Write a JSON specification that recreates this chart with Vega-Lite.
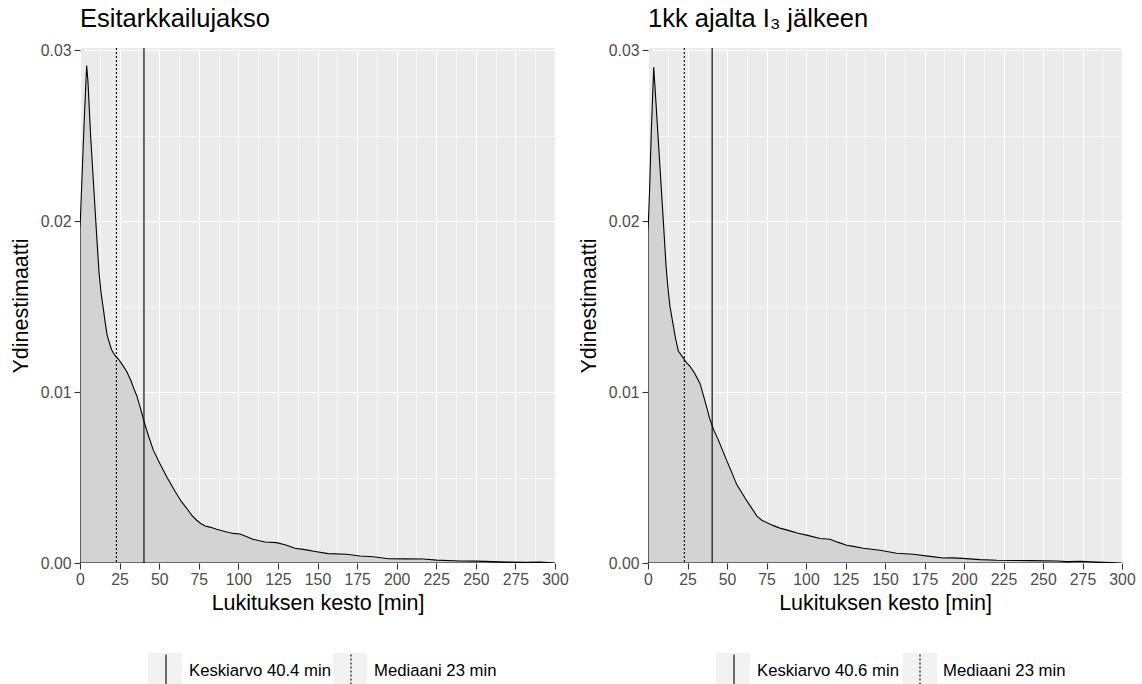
{
  "$schema": "https://vega.github.io/schema/vega-lite/v6.json",
  "background": "white",
  "padding": {"left": 10, "top": 6, "right": 12, "bottom": 0},
  "spacing": 9,
  "config": {
    "font": "Liberation Sans",
    "view": {"fill": "#EBEBEB", "stroke": null},
    "axis": {
      "labelColor": "#4D4D4D",
      "labelFontSize": 15.8,
      "labelFont": "Liberation Sans",
      "titleFont": "Liberation Sans",
      "titleFontSize": 21.5,
      "titleFontWeight": "normal",
      "titleColor": "black",
      "tickColor": "#333333",
      "tickSize": 6,
      "tickWidth": 1.1,
      "labelPadding": 3,
      "domain": false,
      "gridColor": "white",
      "labelOverlap": false,
      "labelFlush": false
    },
    "title": {"font": "Liberation Sans", "fontSize": 25.5, "fontWeight": "normal", "color": "black", "anchor": "start", "frame": "group", "offset": 10},
    "legend": {"labelFont": "Liberation Sans", "labelFontSize": 16.7, "labelColor": "black", "padding": 0}
  },
  "datasets": {
    "left": [
      {"x": 0, "y": 0.0195}, {"x": 1, "y": 0.0219}, {"x": 2, "y": 0.0243}, {"x": 3, "y": 0.0266}, {"x": 4.2, "y": 0.0291},
      {"x": 5, "y": 0.0282}, {"x": 6.7, "y": 0.025}, {"x": 8.4, "y": 0.0224}, {"x": 10.5, "y": 0.0192}, {"x": 12, "y": 0.017},
      {"x": 13.3, "y": 0.0158}, {"x": 14.7, "y": 0.0149}, {"x": 16, "y": 0.014}, {"x": 17.2, "y": 0.0133}, {"x": 18.5, "y": 0.0129},
      {"x": 19.8, "y": 0.0125}, {"x": 21, "y": 0.0123}, {"x": 22.5, "y": 0.0121}, {"x": 24.5, "y": 0.0119}, {"x": 26.7, "y": 0.0116},
      {"x": 29.5, "y": 0.0112}, {"x": 32, "y": 0.0107}, {"x": 34, "y": 0.0102}, {"x": 35.8, "y": 0.0098}, {"x": 38, "y": 0.0091},
      {"x": 40.4, "y": 0.0083}, {"x": 43, "y": 0.0075}, {"x": 46.3, "y": 0.0066}, {"x": 50.5, "y": 0.0058}, {"x": 55, "y": 0.005},
      {"x": 60, "y": 0.0042}, {"x": 64, "y": 0.0036}, {"x": 67.4, "y": 0.0032}, {"x": 70.5, "y": 0.0028}, {"x": 73.7, "y": 0.0025},
      {"x": 76.5, "y": 0.0023}, {"x": 79, "y": 0.00216}, {"x": 82, "y": 0.0021}, {"x": 86.3, "y": 0.00197}, {"x": 92.6, "y": 0.00181},
      {"x": 97, "y": 0.00173}, {"x": 101, "y": 0.0017}, {"x": 105, "y": 0.00155}, {"x": 109.5, "y": 0.00138}, {"x": 116.8, "y": 0.00123},
      {"x": 124.2, "y": 0.00119}, {"x": 130, "y": 0.00105}, {"x": 135.8, "y": 0.00086}, {"x": 142, "y": 0.00078}, {"x": 149.5, "y": 0.00066},
      {"x": 156.8, "y": 0.00055}, {"x": 168.4, "y": 0.00051}, {"x": 176.8, "y": 0.00041}, {"x": 185.3, "y": 0.00037}, {"x": 194.7, "y": 0.00025},
      {"x": 205, "y": 0.00024}, {"x": 216.8, "y": 0.00023}, {"x": 225.3, "y": 0.00017}, {"x": 240, "y": 0.00012}, {"x": 250, "y": 0.00011},
      {"x": 261, "y": 0.00008}, {"x": 270, "y": 0.00006}, {"x": 282, "y": 0.00004}, {"x": 290, "y": 0.00005}, {"x": 299, "y": 0.00001},
      {"x": 300, "y": 0}
    ],
    "right": [
      {"x": 0, "y": 0.0193}, {"x": 1, "y": 0.0218}, {"x": 2, "y": 0.025}, {"x": 3.6, "y": 0.029}, {"x": 5, "y": 0.027},
      {"x": 7, "y": 0.024}, {"x": 9.7, "y": 0.02}, {"x": 11.4, "y": 0.0174}, {"x": 12.5, "y": 0.0162}, {"x": 13.9, "y": 0.015},
      {"x": 16, "y": 0.0139}, {"x": 17.5, "y": 0.0131}, {"x": 19.2, "y": 0.0124}, {"x": 22.3, "y": 0.012}, {"x": 24.5, "y": 0.0117},
      {"x": 26.6, "y": 0.0115}, {"x": 29.5, "y": 0.0111}, {"x": 32.9, "y": 0.0105}, {"x": 36, "y": 0.0095}, {"x": 39.2, "y": 0.0084},
      {"x": 41.5, "y": 0.0078}, {"x": 44.5, "y": 0.0072}, {"x": 49.8, "y": 0.006}, {"x": 53, "y": 0.0053}, {"x": 56.1, "y": 0.0046},
      {"x": 61.4, "y": 0.0038}, {"x": 65, "y": 0.0033}, {"x": 68.8, "y": 0.00276}, {"x": 72, "y": 0.0025}, {"x": 75.1, "y": 0.00237},
      {"x": 79, "y": 0.0022}, {"x": 83.5, "y": 0.00204}, {"x": 89.9, "y": 0.00188}, {"x": 95, "y": 0.00174}, {"x": 100.4, "y": 0.00163},
      {"x": 108.9, "y": 0.00143}, {"x": 115.2, "y": 0.00139}, {"x": 120, "y": 0.00122}, {"x": 125.8, "y": 0.00104}, {"x": 130, "y": 0.00097},
      {"x": 136.3, "y": 0.00086}, {"x": 146.8, "y": 0.00075}, {"x": 157.4, "y": 0.00057}, {"x": 167.9, "y": 0.00051}, {"x": 178.5, "y": 0.00039},
      {"x": 186.9, "y": 0.00029}, {"x": 193, "y": 0.0003}, {"x": 199, "y": 0.00027}, {"x": 210, "y": 0.0002}, {"x": 220.7, "y": 0.00016},
      {"x": 242, "y": 0.00014}, {"x": 259, "y": 0.00012}, {"x": 265, "y": 0.00008}, {"x": 274, "y": 0.0001}, {"x": 284, "y": 0.00006},
      {"x": 293, "y": 0.00003}, {"x": 300, "y": 0}
    ],
    "statsLeft": [
      {"label": "Keskiarvo 40.4 min", "key": "k1", "value": 40.4},
      {"label": "Mediaani 23 min", "key": "k2", "value": 23}
    ],
    "statsRight": [
      {"label": "Keskiarvo 40.6 min", "key": "k1", "value": 40.6},
      {"label": "Mediaani 23 min", "key": "k2", "value": 23}
    ]
  },
  "resolve": {"scale": {"strokeDash": "independent", "fill": "independent"}, "legend": {"strokeDash": "independent", "fill": "independent"}},
  "hconcat": [
    {
      "title": {"text": "Esitarkkailujakso"},
      "width": 475,
      "height": 515,
      "layer": [
        {
          "data": {"name": "left"},
          "mark": {"type": "area", "fill": "#D3D3D3", "stroke": "black", "strokeWidth": 1.1, "clip": true},
          "encoding": {
            "x": {"field": "x", "type": "quantitative", "title": "Lukituksen kesto [min]",
              "scale": {"domain": [0, 300], "nice": false, "zero": false},
              "axis": {"values": [0,12.5,25,37.5,50,62.5,75,87.5,100,112.5,125,137.5,150,162.5,175,187.5,200,212.5,225,237.5,250,262.5,275,287.5,300],
                "labelOverlap": false,
                "labelExpr": "datum.value % 25 === 0 ? datum.label : ''",
                "gridWidth": {"condition": {"test": "datum.value % 25 === 0", "value": 1.1}, "value": 0.55},
                "tickOpacity": {"condition": {"test": "datum.value % 25 === 0", "value": 1}, "value": 0},
                "titlePadding": 6}},
            "y": {"field": "y", "type": "quantitative", "title": "Ydinestimaatti",
              "scale": {"domain": [0, 0.03012], "nice": false},
              "axis": {"values": [0, 0.005, 0.01, 0.015, 0.02, 0.025, 0.03], "format": ".2f",
                "labelOverlap": false,
                "labelExpr": "round(datum.value * 1000) % 10 === 0 ? datum.label : ''",
                "gridWidth": {"condition": {"test": "round(datum.value * 1000) % 10 === 0", "value": 1.1}, "value": 0.55},
                "tickOpacity": {"condition": {"test": "round(datum.value * 1000) % 10 === 0", "value": 1}, "value": 0},
                "titlePadding": 8}}
          }
        },
        {
          "data": {"name": "statsLeft"},
          "mark": {"type": "point", "filled": true, "opacity": 0},
          "encoding": {
            "x": {"field": "value", "type": "quantitative", "title": "Lukituksen kesto [min]",
              "axis": {"values": [0,12.5,25,37.5,50,62.5,75,87.5,100,112.5,125,137.5,150,162.5,175,187.5,200,212.5,225,237.5,250,262.5,275,287.5,300],
                "labelOverlap": false,
                "labelExpr": "datum.value % 25 === 0 ? datum.label : ''",
                "gridWidth": {"condition": {"test": "datum.value % 25 === 0", "value": 1.1}, "value": 0.55},
                "tickOpacity": {"condition": {"test": "datum.value % 25 === 0", "value": 1}, "value": 0},
                "titlePadding": 6}},
            "fill": {"field": "key", "type": "nominal",
              "scale": {"range": ["#F2F2F2", "#F2F2F2"]},
              "legend": {"title": null, "orient": "none", "legendX": 68, "legendY": 605, "direction": "horizontal",
                "symbolType": "square", "symbolSize": 1156, "symbolStrokeWidth": 0, "symbolOpacity": 1,
                "labelExpr": "''", "labelOffset": 5, "columnPadding": 146, "zindex": 0}}
          }
        },
        {
          "data": {"name": "statsLeft"},
          "mark": {"type": "rule", "color": "black", "strokeWidth": 1.1},
          "encoding": {
            "x": {"field": "value", "type": "quantitative", "title": "Lukituksen kesto [min]",
              "axis": {"values": [0,12.5,25,37.5,50,62.5,75,87.5,100,112.5,125,137.5,150,162.5,175,187.5,200,212.5,225,237.5,250,262.5,275,287.5,300],
                "labelOverlap": false,
                "labelExpr": "datum.value % 25 === 0 ? datum.label : ''",
                "gridWidth": {"condition": {"test": "datum.value % 25 === 0", "value": 1.1}, "value": 0.55},
                "tickOpacity": {"condition": {"test": "datum.value % 25 === 0", "value": 1}, "value": 0},
                "titlePadding": 6}},
            "strokeDash": {"field": "label", "type": "nominal",
              "scale": {"domain": ["Keskiarvo 40.4 min", "Mediaani 23 min"], "range": [[1, 0], [2, 2]]},
              "legend": {"title": null, "orient": "none", "legendX": 68, "legendY": 605, "direction": "horizontal",
                "symbolType": "M0,-1L0,1", "symbolSize": 1156,
                "symbolStrokeColor": "black", "symbolStrokeWidth": 1.1, "labelOffset": 5, "columnPadding": 2, "zindex": 1}}
          }
        }
      ]
    },
    {
      "title": {"text": "1kk ajalta I₃ jälkeen"},
      "width": 474,
      "height": 515,
      "layer": [
        {
          "data": {"name": "right"},
          "mark": {"type": "area", "fill": "#D3D3D3", "stroke": "black", "strokeWidth": 1.1, "clip": true},
          "encoding": {
            "x": {"field": "x", "type": "quantitative", "title": "Lukituksen kesto [min]",
              "scale": {"domain": [0, 300], "nice": false, "zero": false},
              "axis": {"values": [0,12.5,25,37.5,50,62.5,75,87.5,100,112.5,125,137.5,150,162.5,175,187.5,200,212.5,225,237.5,250,262.5,275,287.5,300],
                "labelOverlap": false,
                "labelExpr": "datum.value % 25 === 0 ? datum.label : ''",
                "gridWidth": {"condition": {"test": "datum.value % 25 === 0", "value": 1.1}, "value": 0.55},
                "tickOpacity": {"condition": {"test": "datum.value % 25 === 0", "value": 1}, "value": 0},
                "titlePadding": 6}},
            "y": {"field": "y", "type": "quantitative", "title": "Ydinestimaatti",
              "scale": {"domain": [0, 0.03012], "nice": false},
              "axis": {"values": [0, 0.005, 0.01, 0.015, 0.02, 0.025, 0.03], "format": ".2f",
                "labelOverlap": false,
                "labelExpr": "round(datum.value * 1000) % 10 === 0 ? datum.label : ''",
                "gridWidth": {"condition": {"test": "round(datum.value * 1000) % 10 === 0", "value": 1.1}, "value": 0.55},
                "tickOpacity": {"condition": {"test": "round(datum.value * 1000) % 10 === 0", "value": 1}, "value": 0},
                "titlePadding": 8}}
          }
        },
        {
          "data": {"name": "statsRight"},
          "mark": {"type": "point", "filled": true, "opacity": 0},
          "encoding": {
            "x": {"field": "value", "type": "quantitative", "title": "Lukituksen kesto [min]",
              "axis": {"values": [0,12.5,25,37.5,50,62.5,75,87.5,100,112.5,125,137.5,150,162.5,175,187.5,200,212.5,225,237.5,250,262.5,275,287.5,300],
                "labelOverlap": false,
                "labelExpr": "datum.value % 25 === 0 ? datum.label : ''",
                "gridWidth": {"condition": {"test": "datum.value % 25 === 0", "value": 1.1}, "value": 0.55},
                "tickOpacity": {"condition": {"test": "datum.value % 25 === 0", "value": 1}, "value": 0},
                "titlePadding": 6}},
            "fill": {"field": "key", "type": "nominal",
              "scale": {"range": ["#F2F2F2", "#F2F2F2"]},
              "legend": {"title": null, "orient": "none", "legendX": 68, "legendY": 605, "direction": "horizontal",
                "symbolType": "square", "symbolSize": 1156, "symbolStrokeWidth": 0, "symbolOpacity": 1,
                "labelExpr": "''", "labelOffset": 5, "columnPadding": 148, "zindex": 0}}
          }
        },
        {
          "data": {"name": "statsRight"},
          "mark": {"type": "rule", "color": "black", "strokeWidth": 1.1},
          "encoding": {
            "x": {"field": "value", "type": "quantitative", "title": "Lukituksen kesto [min]",
              "axis": {"values": [0,12.5,25,37.5,50,62.5,75,87.5,100,112.5,125,137.5,150,162.5,175,187.5,200,212.5,225,237.5,250,262.5,275,287.5,300],
                "labelOverlap": false,
                "labelExpr": "datum.value % 25 === 0 ? datum.label : ''",
                "gridWidth": {"condition": {"test": "datum.value % 25 === 0", "value": 1.1}, "value": 0.55},
                "tickOpacity": {"condition": {"test": "datum.value % 25 === 0", "value": 1}, "value": 0},
                "titlePadding": 6}},
            "strokeDash": {"field": "label", "type": "nominal",
              "scale": {"domain": ["Keskiarvo 40.6 min", "Mediaani 23 min"], "range": [[1, 0], [2, 2]]},
              "legend": {"title": null, "orient": "none", "legendX": 68, "legendY": 605, "direction": "horizontal",
                "symbolType": "M0,-1L0,1", "symbolSize": 1156,
                "symbolStrokeColor": "black", "symbolStrokeWidth": 1.1, "labelOffset": 5, "columnPadding": 3, "zindex": 1}}
          }
        }
      ]
    }
  ]
}
